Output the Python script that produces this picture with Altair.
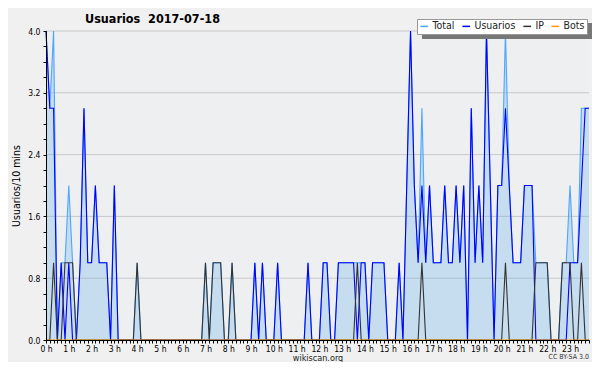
import json
import altair as alt
import pandas as pd

FONT = "DejaVu Sans Condensed, DejaVu Sans"

series_names = ["Total", "Usuarios", "IP", "Bots"]
series_colors = ["#4da6ff", "#0000ff", "#333333", "#ff9900"]

hour_labels = [f"{h} h" for h in range(24)]
y_tick_labels = ["0.0", "0.8", "1.6", "2.4", "3.2", "4.0"]
grid_levels = [0.8, 1.6, 2.4, 3.2, 4.0]

# one value every 10 minutes (144 per day)
total = [
    4, 3, 4, 0, 1, 1, 2, 1, 0, 1, 3, 1, 1, 2, 1, 1, 1, 0, 2, 0, 0, 0, 0, 0,
    1, 0, 0, 0, 0, 0, 0, 0, 0, 0, 0, 0, 0, 0, 0, 0, 0, 0, 1, 0, 1, 1, 1, 0,
    0, 1, 0, 0, 0, 0, 0, 1, 0, 1, 0, 0, 0, 1, 0, 0, 0, 0, 0, 0, 0, 1, 0, 0,
    0, 1, 1, 0, 0, 1, 1, 1, 1, 1, 1, 1, 1, 0, 1, 1, 1, 1, 0, 0, 0, 1, 0, 2,
    4, 2, 1, 3, 1, 2, 1, 1, 1, 2, 1, 1, 2, 1, 2, 0, 3, 1, 2, 1, 4, 2, 0, 2,
    2, 4, 2, 1, 1, 1, 2, 2, 2, 1, 1, 1, 1, 0, 0, 0, 1, 1, 2, 1, 1, 3, 3, 3,
]
usuarios = [
    4, 3, 3, 0, 1, 0, 1, 0, 0, 1, 3, 1, 1, 2, 1, 1, 1, 0, 2, 0, 0, 0, 0, 0,
    0, 0, 0, 0, 0, 0, 0, 0, 0, 0, 0, 0, 0, 0, 0, 0, 0, 0, 0, 0, 0, 0, 0, 0,
    0, 0, 0, 0, 0, 0, 0, 1, 0, 1, 0, 0, 0, 1, 0, 0, 0, 0, 0, 0, 0, 1, 0, 0,
    0, 1, 1, 0, 0, 1, 1, 1, 1, 1, 0, 1, 1, 0, 1, 1, 1, 1, 0, 0, 0, 1, 0, 2,
    4, 2, 1, 2, 1, 2, 1, 1, 1, 2, 1, 1, 2, 1, 2, 0, 3, 1, 2, 1, 4, 2, 0, 2,
    2, 3, 2, 1, 1, 1, 2, 2, 2, 0, 0, 0, 0, 0, 0, 0, 0, 0, 1, 1, 1, 2, 3, 3,
]
ip = [
    0, 0, 1, 0, 0, 1, 1, 1, 0, 0, 0, 0, 0, 0, 0, 0, 0, 0, 0, 0, 0, 0, 0, 0,
    1, 0, 0, 0, 0, 0, 0, 0, 0, 0, 0, 0, 0, 0, 0, 0, 0, 0, 1, 0, 1, 1, 1, 0,
    0, 1, 0, 0, 0, 0, 0, 0, 0, 0, 0, 0, 0, 0, 0, 0, 0, 0, 0, 0, 0, 0, 0, 0,
    0, 0, 0, 0, 0, 0, 0, 0, 0, 0, 1, 0, 0, 0, 0, 0, 0, 0, 0, 0, 0, 0, 0, 0,
    0, 0, 0, 1, 0, 0, 0, 0, 0, 0, 0, 0, 0, 0, 0, 0, 0, 0, 0, 0, 0, 0, 0, 0,
    0, 1, 0, 0, 0, 0, 0, 0, 0, 1, 1, 1, 1, 0, 0, 0, 1, 1, 1, 0, 0, 1, 0, 0,
]
bots = [
    0, 0, 0, 0, 0, 0, 0, 0, 0, 0, 0, 0, 0, 0, 0, 0, 0, 0, 0, 0, 0, 0, 0, 0,
    0, 0, 0, 0, 0, 0, 0, 0, 0, 0, 0, 0, 0, 0, 0, 0, 0, 0, 0, 0, 0, 0, 0, 0,
    0, 0, 0, 0, 0, 0, 0, 0, 0, 0, 0, 0, 0, 0, 0, 0, 0, 0, 0, 0, 0, 0, 0, 0,
    0, 0, 0, 0, 0, 0, 0, 0, 0, 0, 0, 0, 0, 0, 0, 0, 0, 0, 0, 0, 0, 0, 0, 0,
    0, 0, 0, 0, 0, 0, 0, 0, 0, 0, 0, 0, 0, 0, 0, 0, 0, 0, 0, 0, 0, 0, 0, 0,
    0, 0, 0, 0, 0, 0, 0, 0, 0, 0, 0, 0, 0, 0, 0, 0, 0, 0, 0, 0, 0, 0, 0, 0,
]

rows = []
for name, vals in zip(series_names, [total, usuarios, ip, bots]):
    for i, v in enumerate(vals):
        rows.append({"t": i, "v": v, "serie": name})
df = pd.DataFrame(rows)
n = len(total)

x_ticks = list(range(n))
y_ticks = [round(k * 0.2, 1) for k in range(21)]

x_label_expr = (
    "datum.value % 6 === 0 ? " + json.dumps(hour_labels) + "[datum.value / 6] : ''"
)
y_label_expr = (
    "round(datum.value * 5) % 4 === 0 ? "
    + json.dumps(y_tick_labels)
    + "[round(datum.value * 5) / 4] : ''"
)

x_enc = alt.X(
    "t:Q",
    scale=alt.Scale(domain=[0, n - 1], nice=False, zero=False),
    axis=alt.Axis(
        values=x_ticks,
        labelExpr=x_label_expr,
        labelOverlap=False,
        labelFlush=False,
        grid=False,
        tickSize=3,
        tickColor="#000000",
        domainColor="#000000",
        labelFont=FONT,
        labelFontSize=8.5,
        labelColor="#000000",
        labelPadding=1,
        title="wikiscan.org",
        titleFont=FONT,
        titleFontSize=9,
        titleFontWeight="normal",
        titleColor="#222222",
        titlePadding=1,
        zindex=1,
    ),
)
y_axis = alt.Axis(
    values=y_ticks,
    labelExpr=y_label_expr,
    labelOverlap=False,
    labelFlush=False,
    grid=False,
    tickSize=3,
    tickColor="#000000",
    domainColor="#000000",
    labelFont=FONT,
    labelFontSize=8.5,
    labelColor="#000000",
    labelPadding=3,
    title="Usuarios/10 mins",
    titleFont=FONT,
    titleFontSize=10.5,
    titleFontWeight="normal",
    titleColor="#000000",
    titlePadding=6,
    zindex=1,
)
y_enc = alt.Y("v:Q", scale=alt.Scale(domain=[0, 4], nice=False), axis=y_axis)

color_enc = alt.Color(
    "serie:N",
    scale=alt.Scale(domain=series_names, range=series_colors),
    legend=alt.Legend(
        title=None,
        orient="none",
        legendX=371,
        legendY=-12,
        direction="horizontal",
        columns=4,
        symbolType="stroke",
        symbolSize=60,
        symbolStrokeWidth=1.5,
        labelFont=FONT,
        labelFontSize=10.5,
        labelColor="#222222",
        labelOffset=3,
        columnPadding=4,
        padding=2,
        fillColor="#ffffff",
        strokeColor="#999999",
    ),
)

base = alt.Chart(df)

grid = alt.Chart(pd.DataFrame({"g": grid_levels})).mark_rule(
    color="#c8c8c8", strokeWidth=1
).encode(y=alt.Y("g:Q", scale=alt.Scale(domain=[0, 4], nice=False), axis=y_axis))

area = base.transform_filter(alt.datum.serie == "Total").mark_area(
    color="#69b0ea", opacity=0.3, interpolate="linear"
).encode(x=x_enc, y=y_enc)

lines = [
    base.transform_filter(alt.datum.serie == name)
    .mark_line(strokeWidth=1.1, interpolate="linear")
    .encode(x=x_enc, y=y_enc, color=color_enc)
    for name in series_names
]

one = pd.DataFrame({"a": [0]})
shadow = alt.Chart(one).mark_rect(color="#777777").encode(
    x=alt.value(376), x2=alt.value(546), y=alt.value(-8), y2=alt.value(8)
)

title = alt.Chart(one).mark_text(
    text="Usuarios\u00a0\u00a02017-07-18",
    font=FONT,
    fontSize=12.5,
    fontWeight="bold",
    align="left",
    baseline="alphabetic",
    color="#000000",
).encode(x=alt.value(39), y=alt.value(-8))

license_txt = alt.Chart(one).mark_text(
    text="CC BY-SA 3.0",
    font=FONT,
    fontSize=7,
    align="right",
    baseline="alphabetic",
    color="#333333",
).encode(x=alt.value(543), y=alt.value(328))

chart = (
    alt.layer(grid, area, *lines, shadow, title, license_txt)
    .resolve_scale(y="shared", x="shared")
    .properties(
        width=543,
        height=309,
        autosize=alt.AutoSizeParams(type="none"),
        padding={"left": 38, "top": 23, "right": 3, "bottom": 22},
        background="#f0f0f0",
    )
    .configure_view(fill="#eeeff1", stroke=None)
)

chart.save("out.html", embed_options={"renderer": "svg", "actions": False})
